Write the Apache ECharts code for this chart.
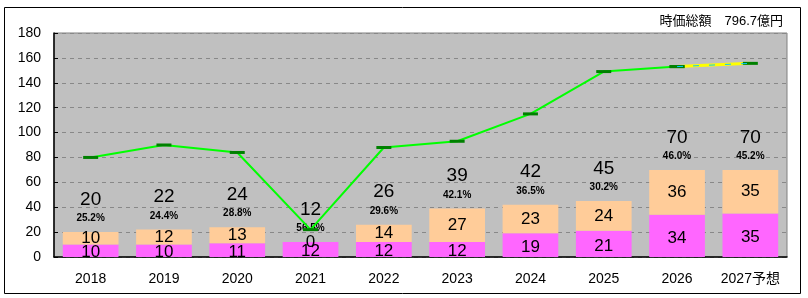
<!DOCTYPE html>
<html><head><meta charset="utf-8">
<script src="https://cdn.jsdelivr.net/npm/echarts@6/dist/echarts.min.js"></script>
<style>html,body{margin:0;padding:0;background:#fff}#c{width:808px;height:298px}</style>
</head><body><div id="c"></div>
<script>
const categories = ['2018','2019','2020','2021','2022','2023','2024','2025','2026','2027予想'];
const lowerValues = [10,10,11,12,12,12,19,21,34,35];
const upperValues = [10,12,13,0,14,27,23,24,36,35];
const totalValues = [20,22,24,12,26,39,42,45,70,70];
const pctLabels = ['25.2%','24.4%','28.8%','56.5%','29.6%','42.1%','36.5%','30.2%','46.0%','45.2%'];
const lineValues = [80,90,84,22,88,93,115,149,153,155.6];
const yTicks = [0,20,40,60,80,100,120,140,160,180];
const titleText = '時価総額　796.7億円';

const FONT = 'Liberation Sans, Noto Sans CJK JP, sans-serif';
const chart = echarts.init(document.getElementById('c'), null, {renderer:'canvas'});
const n = categories.length;
const greenLine = lineValues.map((v,i)=> i < n-1 ? v : '-');
const lastSeg = lineValues.map((v,i)=> i >= n-2 ? v : '-');

chart.setOption({
  animation:false,
  backgroundColor:'#fff',
  graphic:[
    {type:'rect', shape:{x:4.5,y:7.5,width:796,height:286}, style:{fill:'none',stroke:'#000',lineWidth:1}, z:-1},
    {type:'text', right:25, top:15, style:{text:titleText, font:'13px '+FONT, fill:'#000'}}
  ],
  grid:{left:54, top:33, right:21, bottom:41, show:true, backgroundColor:'#C0C0C0', borderColor:'#808080', borderWidth:1},
  xAxis:{
    type:'category', data:categories,
    axisLine:{lineStyle:{color:'#000',width:1.5}},
    axisTick:{inside:true, length:4, lineStyle:{color:'#000'}},
    axisLabel:{color:'#000', fontSize:14, fontFamily:FONT, margin:15, interval:0}
  },
  yAxis:{
    type:'value', min:yTicks[0], max:yTicks[yTicks.length-1], interval:20,
    axisLine:{show:true, lineStyle:{color:'#000',width:1.5}},
    axisTick:{show:true, inside:true, length:4, lineStyle:{color:'#000'}},
    axisLabel:{color:'#000', fontSize:14, fontFamily:FONT, margin:13},
    splitLine:{show:true, lineStyle:{color:'#888', type:[4,4], width:1}}
  },
  series:[
    {type:'bar', stack:'s', data:lowerValues, barWidth:'76%', itemStyle:{color:'#FF66FF'},
     label:{show:true, position:'inside', color:'#000', fontSize:17, fontFamily:FONT, offset:[0,2]}},
    {type:'bar', stack:'s', data:upperValues, barWidth:'76%', itemStyle:{color:'#FFCC99'},
     label:{show:true, position:'inside', color:'#000', fontSize:17, fontFamily:FONT}},
    {type:'scatter', data:totalValues, symbolSize:0, silent:true, itemStyle:{opacity:1, color:'#000'},
     label:{show:true, position:'top', distance:5, color:'#000',
       formatter:p=>'{a|'+p.value+'}\n{b|'+pctLabels[p.dataIndex]+'}',
       rich:{a:{fontSize:19, color:'#000', fontFamily:FONT, lineHeight:21, align:'center'}, b:{fontSize:10, color:'#000', fontWeight:'bold', fontFamily:FONT, lineHeight:17, align:'center'}}}},
    {type:'line', data:greenLine, lineStyle:{color:'#00FF00', width:2}, itemStyle:{color:'#008000'},
     symbol:'rect', symbolSize:[15,3], showSymbol:true, z:5},
    {type:'line', data:lastSeg, lineStyle:{color:'#FFFF00', width:3}, itemStyle:{color:'#008000'},
     symbol:'rect', symbolSize:[15,3], z:5},
    {type:'line', data:lastSeg, lineStyle:{color:'#00CCFF', width:1, type:[6,10]}, symbol:'none', z:6}
  ]
});
</script></body></html>
